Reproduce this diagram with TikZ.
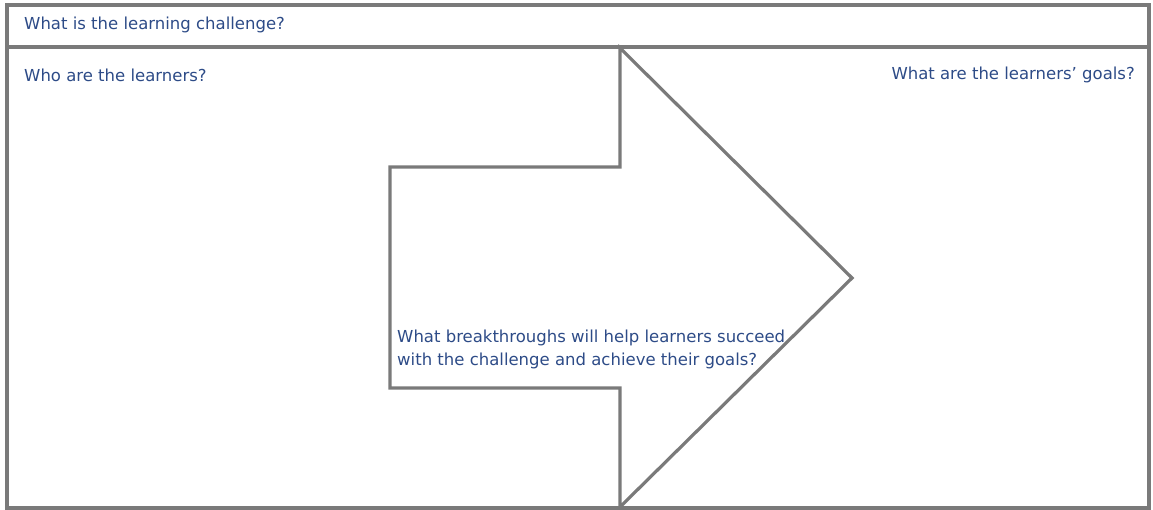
\documentclass[tikz,border=0pt]{standalone}
\usepackage{fontspec}
\setmainfont{DejaVu Sans}
\usetikzlibrary{positioning}
\definecolor{framegray}{RGB}{122,122,122}
\definecolor{inkblue}{RGB}{45,75,135}

\begin{document}
\begin{tikzpicture}[
    x=1pt, y=-1pt,
    frame/.style={draw=framegray, line width=3.2pt, line join=miter},
    prompt/.style={font=\fontsize{16.5}{23}\selectfont, text=inkblue, inner sep=0pt},
]
    \useasboundingbox (0,0) rectangle (1153,510);

    % Outer frame with the challenge strip on top
    \draw[frame] (7,5) rectangle (1149,508);
    \draw[frame] (7,47) -- (1149,47);

    % Breakthrough arrow in the middle
    \draw[frame] (390,167) -- (620,167) -- (620,48) -- (852,278)
        -- (620,507) -- (620,388) -- (390,388) -- cycle;

    % Prompts
    \node[prompt, anchor=base west] (challenge) at (24,30) {What is the learning challenge?};
    \node[prompt, anchor=base west] (learners) at (24,82) {Who are the learners?};
    \node[prompt, anchor=base east] (goals) at (1135,80) {What are the learners' goals?};
    \node[prompt, anchor=base west, align=left] (breakthrough) at (397,365)
        {What breakthroughs will help learners succeed\\with the challenge and achieve their goals?};
\end{tikzpicture}
\end{document}
